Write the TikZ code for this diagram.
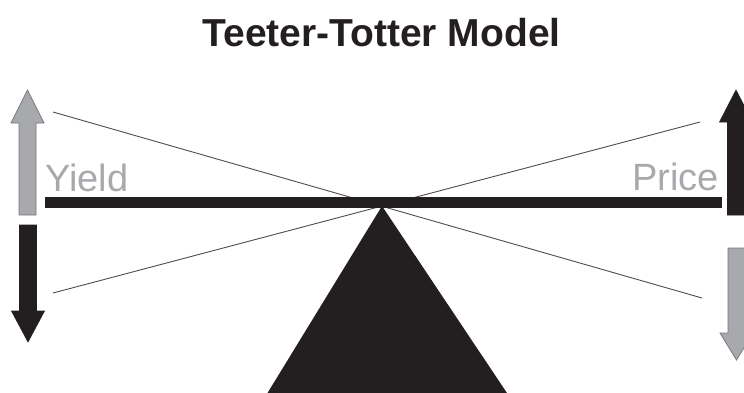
\documentclass[tikz,border=0pt]{standalone}
\usepackage{fontspec}
\setmainfont{Liberation Sans}
\usepackage{tikz}
\usetikzlibrary{positioning,calc}
\definecolor{ink}{HTML}{231F20}
\definecolor{ash}{HTML}{A7A9AC}
\definecolor{ashline}{HTML}{77787B}
\tikzset{
  titletext/.style={inner sep=0pt, font=\fontsize{39}{40}\selectfont\bfseries, text=ink},
  sidelabel/.style={inner sep=0pt, font=\fontsize{38}{40}\selectfont, text=ash},
  tiltline/.style={line width=0.9pt, draw=ink!80},
  beamline/.style={line width=11pt, draw=ink},
  darkarrow/.style={fill=ink, draw=ink, line width=0.6pt, line join=miter},
  palearrow/.style={fill=ash, draw=ashline, line width=0.8pt, line join=miter}
}
% block arrow: centre x, tail y, head base y, tip y
\newcommand{\blockarrow}[5]{%
  \draw[#1] (#2-8.5,#3) -- (#2-8.5,#4) -- (#2-16.5,#4) -- (#2,#5)
    -- (#2+16.5,#4) -- (#2+8.5,#4) -- (#2+8.5,#3) -- cycle;}

\begin{document}
\begin{tikzpicture}[x=1pt, y=-1pt]
  \useasboundingbox (0,0) rectangle (744,392);
  \node[titletext, anchor=base] (title) at (381.5,46) {Teeter-Totter Model};
  % seesaw
  \coordinate (pivot) at (382,206);
  \coordinate (upleft) at (53,112);
  \coordinate (downright) at (702,298);
  \coordinate (downleft) at (53,293);
  \coordinate (upright) at (700,122);
  \draw[tiltline] (upleft) -- (downright);
  \draw[tiltline] (downleft) -- (upright);
  \coordinate (beamL) at (45,202.5);
  \coordinate (beamR) at (722,202.5);
  \draw[beamline] (beamL) -- (beamR);
  \fill[ink] (pivot) -- (262,402) -- (513,402) -- cycle;
  % labels
  \node[sidelabel, anchor=base west] (yield) at (45,191) {Yield};
  \node[sidelabel, anchor=base east] (price) at (719,190) {Price};
  % arrows
  \blockarrow{palearrow}{27.5}{215}{123}{90}
  \blockarrow{darkarrow}{28}{225}{311}{342}
  \blockarrow{darkarrow}{736}{215}{122}{90}
  \blockarrow{palearrow}{736.5}{248}{333}{360}
\end{tikzpicture}
\end{document}
